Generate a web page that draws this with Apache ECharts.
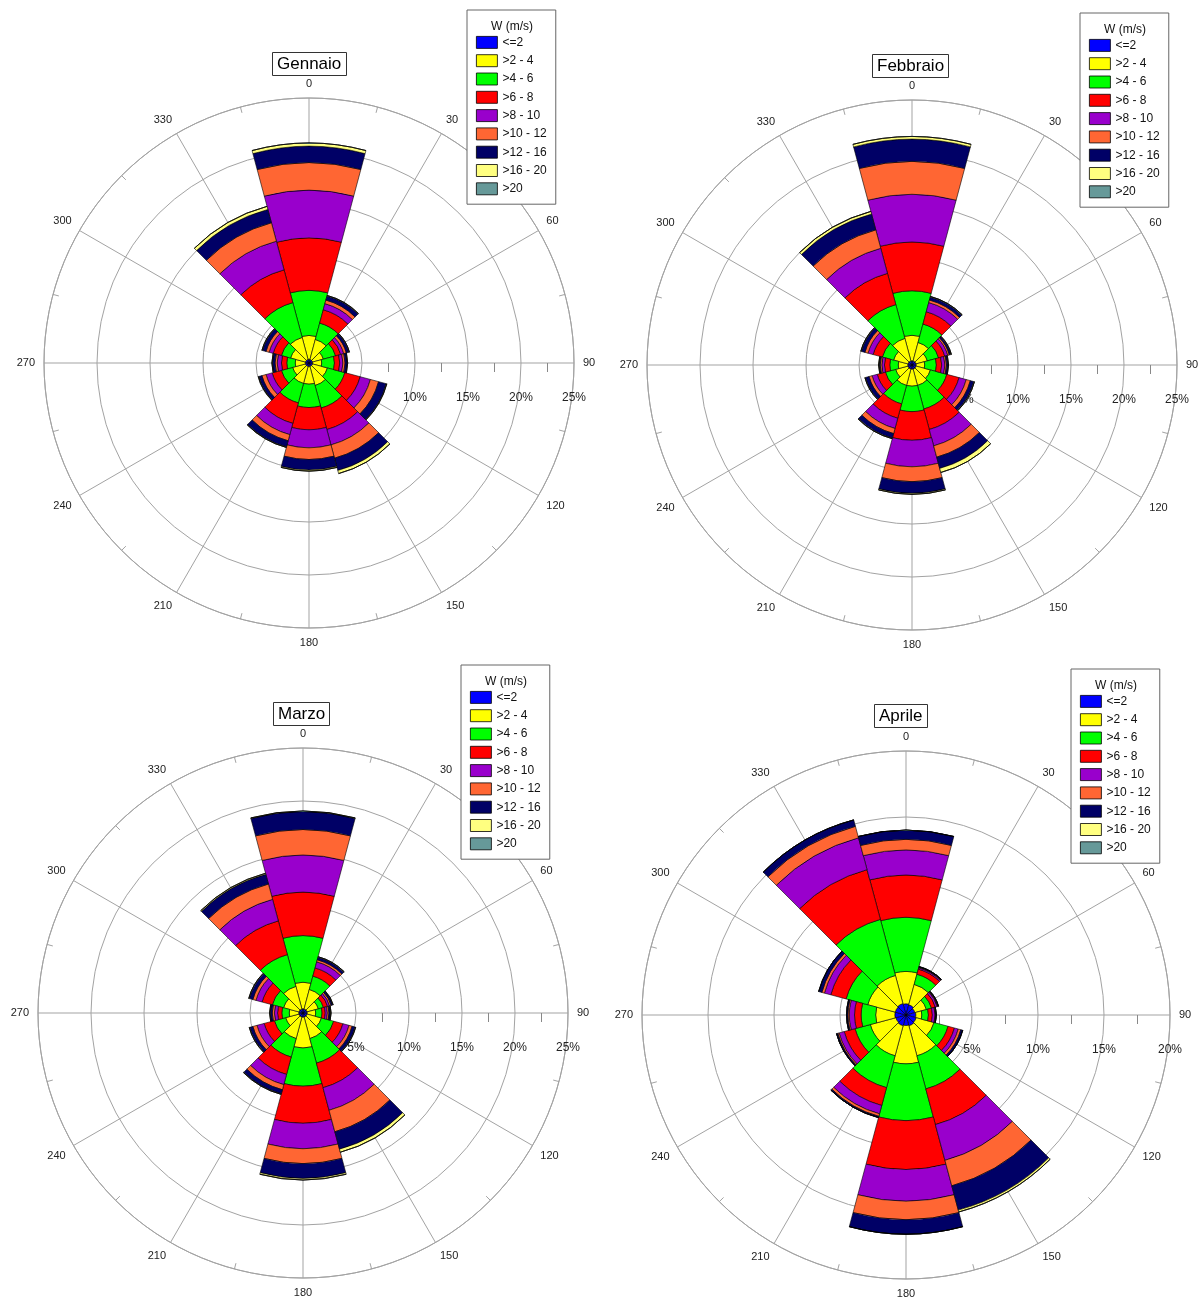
<!DOCTYPE html>
<html><head><meta charset="utf-8">
<script src="https://cdn.jsdelivr.net/npm/echarts@6/dist/echarts.min.js"></script>
<style>html,body{margin:0;padding:0;background:#fff}#c{width:1203px;height:1302px}</style>
</head><body><div id="c"></div>
<script>
// ---------- data ----------
const directions = ['0','30','60','90','120','150','180','210','240','270','300','330'];
const speedClasses = ['<=2','>2 - 4','>4 - 6','>6 - 8','>8 - 10','>10 - 12','>12 - 16','>16 - 20','>20'];
const classColors = ['#0000FF','#FFFF00','#00FF00','#FF0000','#9900CC','#FF6633','#000066','#FFFF80','#669999'];
const months = ['Gennaio','Febbraio','Marzo','Aprile'];
const radiusMax = [25, 25, 25, 20];
const legendTitle = 'W (m/s)';

// Gennaio (% frequency per class, directions 0..330)
const genW2  = [0.35,0.35,0.35,0.35,0.35,0.35,0.35,0.35,0.35,0.35,0.35,0.35];
const genW4  = [2.25,1.95,1.05,0.85,1.45,1.85,1.65,1.65,1.25,0.95,1.45,2.15];
const genW6  = [4.25,1.6,1.2,1.2,1.7,2.2,2.2,1.9,1.1,0.8,0.9,3.4];
const genW8  = [4.95,1.3,0.5,0.5,1.5,2.1,2.1,2.0,0.9,0.5,0.8,3.2];
const genW10 = [4.5,0.6,0.3,0.3,1.0,1.5,1.7,1.1,0.6,0.4,0.4,2.8];
const genW12 = [2.6,0.35,0.25,0.2,0.8,1.3,1.1,0.6,0.4,0.2,0.3,1.8];
const genW16 = [1.55,0.4,0.25,0.2,0.75,1.2,1.0,0.6,0.3,0.25,0.35,1.3];
const genW20 = [0.3,0.05,0.05,0.05,0.05,0.3,0.1,0.05,0.05,0.05,0.05,0.3];
const genW99 = [0,0,0,0,0,0,0,0,0,0,0,0];

// Febbraio
const febW2  = [0.4,0.4,0.4,0.4,0.4,0.4,0.4,0.4,0.4,0.4,0.4,0.4];
const febW4  = [2.4,1.8,1.1,0.8,1.4,1.6,1.6,1.6,1.2,0.9,1.4,2.2];
const febW6  = [4.2,1.8,1.1,1.1,1.6,2.3,2.4,1.8,1.0,0.8,1.1,3.3];
const febW8  = [4.6,1.2,0.6,0.5,1.2,2.0,2.7,1.4,0.8,0.5,0.9,3.05];
const febW10 = [4.5,0.9,0.3,0.3,0.7,1.6,2.5,1.0,0.5,0.25,0.5,2.45];
const febW12 = [3.1,0.25,0.15,0.15,0.4,1.1,1.4,0.5,0.3,0.15,0.3,1.8];
const febW16 = [2.1,0.3,0.15,0.15,0.35,1.1,1.1,0.45,0.35,0.1,0.35,1.55];
const febW20 = [0.25,0.05,0.05,0.05,0.05,0.4,0.1,0.05,0.05,0.05,0.05,0.25];
const febW99 = [0,0,0,0,0,0,0,0,0,0,0,0];

// Marzo
const marW2  = [0.4,0.4,0.4,0.4,0.4,0.4,0.4,0.4,0.4,0.4,0.4,0.4];
const marW4  = [2.5,1.9,1.1,0.8,1.4,2.1,2.9,2.1,1.3,0.9,1.5,2.2];
const marW6  = [4.4,1.3,0.5,0.6,1.2,2.4,3.6,1.8,1.1,0.7,1.1,3.1];
const marW8  = [4.1,0.8,0.4,0.3,0.9,2.4,3.5,1.7,1.0,0.4,1.0,3.3];
const marW10 = [3.5,0.6,0.2,0.2,0.6,2.2,2.4,1.0,0.7,0.3,0.6,2.1];
const marW12 = [2.4,0.2,0.15,0.15,0.3,2.1,1.4,0.5,0.4,0.2,0.3,1.5];
const marW16 = [1.7,0.25,0.15,0.15,0.3,1.7,1.4,0.4,0.3,0.2,0.35,0.95];
const marW20 = [0.05,0.05,0.05,0.05,0.05,0.3,0.15,0.05,0.05,0.05,0.05,0.1];
const marW99 = [0,0,0,0,0,0,0,0,0,0,0,0];

// Aprile
const aprW2  = [0.85,0.8,0.7,0.75,0.8,0.85,0.8,0.85,0.8,0.85,0.85,0.9];
const aprW4  = [2.45,1.6,0.9,0.45,1.4,2.35,2.9,2.35,2.0,1.45,2.15,2.2];
const aprW6  = [4.1,0.8,0.4,0.5,1.1,2.6,4.3,2.5,1.2,1.1,1.7,4.4];
const aprW8  = [3.2,0.4,0.3,0.3,0.5,2.8,3.7,1.4,0.85,0.5,1.2,3.9];
const aprW10 = [1.9,0.1,0.15,0.2,0.3,2.8,2.4,0.65,0.4,0.4,0.5,2.5];
const aprW12 = [0.8,0.05,0.05,0.05,0.2,2.0,1.4,0.2,0.1,0.1,0.2,0.9];
const aprW16 = [0.7,0.05,0.05,0.05,0.15,1.9,1.1,0.1,0.1,0.1,0.25,0.5];
const aprW20 = [0,0,0,0,0,0.15,0,0,0,0,0,0];
const aprW99 = [0,0,0,0,0,0,0,0,0,0,0,0];

const monthSeries = [
  [genW2,genW4,genW6,genW8,genW10,genW12,genW16,genW20,genW99],
  [febW2,febW4,febW6,febW8,febW10,febW12,febW16,febW20,febW99],
  [marW2,marW4,marW6,marW8,marW10,marW12,marW16,marW20,marW99],
  [aprW2,aprW4,aprW6,aprW8,aprW10,aprW12,aprW16,aprW20,aprW99]
];

// ---------- layout ----------
const centers = [[309,363],[912,365],[303,1013],[906,1015]];
const radii = [265,265,265,264];
const titlePos = [[272,52],[872,54],[273,702],[874,704]];
const legendPos = [[467,10],[1080,13],[461,665],[1071,669]];
const FONT = '"Liberation Sans", Arial, sans-serif';
const gridColor = '#a3a3a3';

const polar = [], angleAxis = [], radiusAxis = [], series = [], title = [], legend = [];
months.forEach((m, i) => {
  const c = centers[i], r = radii[i], M = radiusMax[i];
  const g = 3*i, d = 3*i+1, l = 3*i+2;
  for (let k = 0; k < 3; k++) polar.push({center: c, radius: r});
  // grid polar
  angleAxis.push({polarIndex: g, type: 'value', min: 0, max: 360, interval: 30, startAngle: 90, clockwise: true,
    axisLine: {show: true, lineStyle: {color: gridColor, width: 1}},
    axisTick: {show: false, inside: true},
    minorTick: {show: true, splitNumber: 2, length: 6, lineStyle: {color: gridColor}},
    axisLabel: {margin: 9, fontSize: 11, color: '#222', fontFamily: FONT},
    splitLine: {show: true, lineStyle: {color: gridColor, width: 1}}, z: 0});
  radiusAxis.push({polarIndex: g, type: 'value', min: 0, max: M, interval: 5,
    axisLine: {show: false}, axisTick: {show: false}, axisLabel: {show: false},
    splitLine: {show: true, lineStyle: {color: gridColor, width: 1}}, z: 0});
  // data polar
  angleAxis.push({polarIndex: d, type: 'category', data: directions, startAngle: 105, clockwise: true, show: false});
  radiusAxis.push({polarIndex: d, type: 'value', min: 0, max: M, show: false});
  // ring label polar
  angleAxis.push({polarIndex: l, type: 'value', min: 0, max: 360, startAngle: 0, show: false});
  radiusAxis.push({polarIndex: l, type: 'value', min: 0, max: M, interval: 5,
    axisLine: {show: false}, axisTick: {show: false},
    minorTick: {show: true, splitNumber: 2, length: -9, lineStyle: {color: '#888'}},
    axisLabel: {show: true, margin: -41, formatter: '{value}%', showMinLabel: false, fontSize: 12, color: '#222', fontFamily: FONT},
    splitLine: {show: false}, z: 0});

  monthSeries[i].forEach((vals, k) => {
    series.push({type: 'bar', coordinateSystem: 'polar', polarIndex: d, name: speedClasses[k],
      stack: 'rose' + i, data: vals, barCategoryGap: '0%', barGap: '0%', silent: true,
      itemStyle: {color: classColors[k], borderColor: '#000', borderWidth: 0.6}, z: 2});
  });

  title.push({text: m, left: titlePos[i][0], top: titlePos[i][1], padding: [4,5,3,5],
    borderColor: '#333', borderWidth: 1, backgroundColor: '#fff',
    textStyle: {fontSize: 17, fontWeight: 'normal', color: '#000', fontFamily: FONT}});
  legend.push({data: speedClasses, left: legendPos[i][0], top: legendPos[i][1], orient: 'vertical',
    padding: [26,9,9,9], itemWidth: 21, itemHeight: 12, itemGap: 5.5, icon: 'rect',
    borderColor: '#666', borderWidth: 1, backgroundColor: '#fff', selectedMode: false, z: 10,
    itemStyle: {borderColor: '#000', borderWidth: 0.8},
    textStyle: {fontSize: 12, color: '#111', lineHeight: 12, fontFamily: FONT}});
  title.push({text: legendTitle, left: legendPos[i][0] + 45, top: legendPos[i][1] + 11, textAlign: 'center', padding: 0, z: 12,
    textStyle: {fontSize: 12, fontWeight: 'normal', color: '#111', fontFamily: FONT}});
});

const chart = echarts.init(document.getElementById('c'), null, {renderer: 'canvas'});
chart.setOption({
  backgroundColor: '#fff', animation: false,
  textStyle: {fontFamily: FONT},
  title, legend, polar, angleAxis, radiusAxis, series
});
</script></body></html>
